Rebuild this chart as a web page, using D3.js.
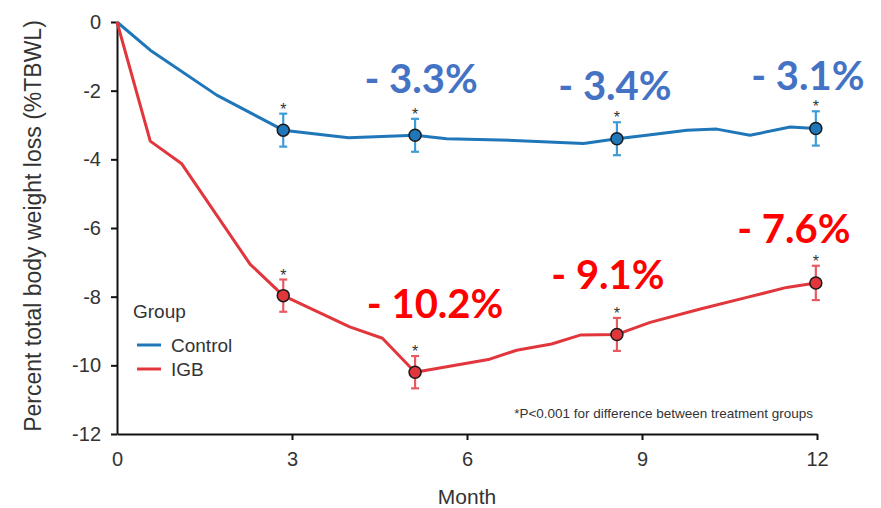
<!DOCTYPE html>
<html>
<head>
<meta charset="utf-8">
<script src="https://cdn.jsdelivr.net/npm/d3@7/dist/d3.min.js"></script>
<style>
  html, body { margin: 0; padding: 0; background: #fff; }
  svg { display: block; }
</style>
</head>
<body>
<svg id="chart" width="881" height="508"></svg>
<script>
// Weight-loss trajectories by group
const controlMonths = [0, 0.57, 1.71, 2.85, 3.97, 5.11, 5.65, 6.8, 8.0, 8.57, 9.08, 9.77, 10.28, 10.85, 11.54, 11.98];
const controlValues = [0, -0.82, -2.13, -3.15, -3.37, -3.3, -3.4, -3.45, -3.54, -3.4, -3.3, -3.15, -3.12, -3.3, -3.06, -3.1];

const igbMonths = [0, 0.57, 1.11, 2.28, 2.85, 3.99, 4.55, 5.11, 6.39, 6.85, 7.45, 7.94, 8.57, 9.14, 10.0, 10.85, 11.48, 11.98];
const igbValues = [0, -3.47, -4.13, -7.05, -7.97, -8.88, -9.21, -10.2, -9.82, -9.56, -9.38, -9.12, -9.1, -8.75, -8.36, -8.0, -7.73, -7.6];

// Assessment visits with means and error bars
const visitMonths = [2.85, 5.11, 8.57, 11.98];
const controlMeans = [-3.15, -3.3, -3.4, -3.1];
const controlErrors = [0.48, 0.48, 0.48, 0.5];
const igbMeans = [-7.97, -10.2, -9.1, -7.6];
const igbErrors = [0.47, 0.47, 0.48, 0.5];

// Visits that carry a percentage call-out (indices into visitMonths)
const controlCallouts = [1, 2, 3];
const igbCallouts = [1, 2, 3];

const xTicks = [0, 3, 6, 9, 12];
const yTicks = [0, -2, -4, -6, -8, -10, -12];
const groupNames = ["Control", "IGB"];

const colors = {
  control: "#1f76b9", igb: "#e2363d",
  controlErr: "#3f9bd6", igbErr: "#e85a62",
  controlText: "#4472c4", igbText: "#ff0000"
};

const svg = d3.select("#chart");
const x = d3.scaleLinear().domain([0, 12]).range([117, 817]);
const y = d3.scaleLinear().domain([-12, 0]).range([434, 22]);

// Axes
const xAxis = svg.append("g").attr("transform", `translate(0,${y(-12)})`)
  .call(d3.axisBottom(x).tickValues(xTicks).tickFormat(d => String(d))
    .tickSize(6).tickSizeOuter(0).tickPadding(12));
const yAxis = svg.append("g").attr("transform", `translate(${x(0)},0)`)
  .call(d3.axisLeft(y).tickValues(yTicks).tickFormat(d => String(d))
    .tickSize(6).tickSizeOuter(0).tickPadding(10));
[xAxis, yAxis].forEach(g => {
  g.select(".domain").attr("stroke", "#111").attr("stroke-width", 2);
  g.selectAll(".tick line").attr("stroke", "#111").attr("stroke-width", 2);
  g.selectAll(".tick text").attr("font-family", "Liberation Sans, Arial, sans-serif")
    .attr("font-size", 20).attr("fill", "#333");
});
xAxis.selectAll(".tick").filter(d => d === 0).select("line").remove();

svg.append("text").attr("x", x(6)).attr("y", 504).attr("text-anchor", "middle")
  .attr("font-family", "Liberation Sans, Arial, sans-serif").attr("font-size", 21).attr("fill", "#333")
  .text("Month");
svg.append("text").attr("transform", `translate(41,226) rotate(-90)`).attr("text-anchor", "middle")
  .attr("font-family", "Liberation Sans, Arial, sans-serif").attr("font-size", 23).attr("fill", "#333")
  .text("Percent total body weight loss (%TBWL)");

// Lines
const line = d3.line().x(d => x(d[0])).y(d => y(d[1]));
svg.append("path").datum(d3.zip(controlMonths, controlValues)).attr("d", line)
  .attr("fill", "none").attr("stroke", colors.control).attr("stroke-width", 3).attr("stroke-linejoin", "round");
svg.append("path").datum(d3.zip(igbMonths, igbValues)).attr("d", line)
  .attr("fill", "none").attr("stroke", colors.igb).attr("stroke-width", 3).attr("stroke-linejoin", "round");

// Error bars, markers and significance stars
function drawVisits(means, errors, lineColor, errColor) {
  const g = svg.append("g");
  visitMonths.forEach((m, i) => {
    const cx = x(m), top = y(means[i] + errors[i]), bot = y(means[i] - errors[i]);
    g.append("line").attr("x1", cx).attr("x2", cx).attr("y1", top).attr("y2", bot)
      .attr("stroke", errColor).attr("stroke-width", 2.2);
    [top, bot].forEach(yy => g.append("line").attr("x1", cx - 4).attr("x2", cx + 4)
      .attr("y1", yy).attr("y2", yy).attr("stroke", errColor).attr("stroke-width", 2.2));
    g.append("circle").attr("cx", cx).attr("cy", y(means[i])).attr("r", 6)
      .attr("fill", lineColor).attr("stroke", "#1a1a1a").attr("stroke-width", 1.5);
    g.append("text").attr("x", cx).attr("y", top + 1).attr("text-anchor", "middle")
      .attr("font-family", "Liberation Sans, Arial, sans-serif").attr("font-size", 16).attr("fill", "#333")
      .text("*");
  });
}
drawVisits(controlMeans, controlErrors, colors.control, colors.controlErr);
drawVisits(igbMeans, igbErrors, colors.igb, colors.igbErr);

// Percentage call-outs (pixel offsets from each visit marker)
const controlOffsets = [[6, -42], [-2, -39], [-8, -38]];
const igbOffsets = [[20, -54], [-9, -45], [-22, -40]];
function drawCallouts(idx, means, offsets, color) {
  idx.forEach((vi, k) => {
    svg.append("text")
      .attr("x", x(visitMonths[vi]) + offsets[k][0])
      .attr("y", y(means[vi]) + offsets[k][1])
      .attr("text-anchor", "middle")
      .attr("font-family", "Lato, 'Open Sans', sans-serif").attr("font-weight", 700)
      .attr("font-size", 40).attr("fill", color)
      .text(`- ${Math.abs(means[vi]).toFixed(1)}%`);
  });
}
drawCallouts(controlCallouts, controlMeans, controlOffsets, colors.controlText);
drawCallouts(igbCallouts, igbMeans, igbOffsets, colors.igbText);

// Legend
const legend = svg.append("g").attr("font-family", "Liberation Sans, Arial, sans-serif").attr("fill", "#333");
legend.append("text").attr("x", 133).attr("y", 318).attr("font-size", 19).text("Group");
[colors.control, colors.igb].forEach((c, i) => {
  const yy = 345 + i * 24;
  legend.append("line").attr("x1", 137).attr("x2", 161).attr("y1", yy).attr("y2", yy)
    .attr("stroke", c).attr("stroke-width", 3);
  legend.append("text").attr("x", 171).attr("y", yy + 7).attr("font-size", 19).text(groupNames[i]);
});

// Footnote
svg.append("text").attr("x", 813).attr("y", 418).attr("text-anchor", "end")
  .attr("font-family", "Liberation Sans, Arial, sans-serif").attr("font-size", 13.5).attr("fill", "#333")
  .text("*P<0.001 for difference between treatment groups");
</script>
</body>
</html>
